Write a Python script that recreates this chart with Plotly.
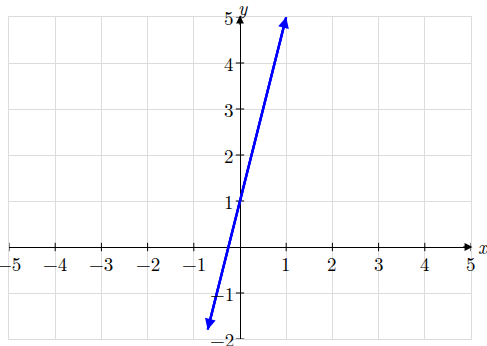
import plotly.graph_objects as go

# Data
line_x = [-0.7, 1.0]
line_y = [-1.8, 5.0]
x_ticks = [-5, -4, -3, -2, -1, 1, 2, 3, 4, 5]
y_ticks = [-2, -1, 1, 2, 3, 4, 5]
x_range = [-5, 5]
y_range = [-2, 5]

FONT = "'Latin Modern Roman', 'Liberation Serif', 'DejaVu Serif', serif"
FS = 19
fig = go.Figure()

# tick marks on the axes
fig.add_trace(go.Scatter(x=x_ticks, y=[0]*len(x_ticks), mode="markers",
                         marker=dict(symbol="line-ns", size=6, line=dict(width=1, color="black")),
                         cliponaxis=False, hoverinfo="skip", showlegend=False))
fig.add_trace(go.Scatter(x=[0]*len(y_ticks), y=y_ticks, mode="markers",
                         marker=dict(symbol="line-ew", size=6, line=dict(width=1, color="black")),
                         cliponaxis=False, hoverinfo="skip", showlegend=False))

# main line
fig.add_trace(go.Scatter(x=line_x, y=line_y, mode="lines",
                         line=dict(color="#0000ff", width=2.3),
                         cliponaxis=False, showlegend=False))

ann = []
# arrowheads on the line
for i, j in [(0, 1), (1, 0)]:
    ann.append(dict(x=line_x[i], y=line_y[i], ax=line_x[j], ay=line_y[j],
                    xref="x", yref="y", axref="x", ayref="y", text="",
                    showarrow=True, arrowhead=2, arrowsize=0.95, arrowwidth=2.3,
                    arrowcolor="#0000ff", standoff=0, startstandoff=0))
# axis arrows
ann.append(dict(x=x_range[1] + 0.03, y=0, ax=x_range[1] - 0.2, ay=0, xref="x", yref="y",
                axref="x", ayref="y", text="", showarrow=True, arrowhead=2,
                arrowsize=1.2, arrowwidth=1.3, arrowcolor="black", standoff=0))
ann.append(dict(x=0, y=y_range[1] + 0.03, ax=0, ay=y_range[1] - 0.2, xref="x", yref="y",
                axref="x", ayref="y", text="", showarrow=True, arrowhead=2,
                arrowsize=1.2, arrowwidth=1.3, arrowcolor="black", standoff=0))

def lab(v):
    return ("\u2212" + str(-v)) if v < 0 else str(v)

for v in x_ticks:
    ann.append(dict(x=v, y=0, xref="x", yref="y", text=lab(v), showarrow=False,
                    xanchor="center", yanchor="middle", yshift=-16,
                    font=dict(family=FONT, size=FS, color="black")))
for v in y_ticks:
    ann.append(dict(x=0, y=v, xref="x", yref="y", text=lab(v), showarrow=False,
                    xanchor="right", yanchor="middle", xshift=-4,
                    font=dict(family=FONT, size=FS, color="black")))
ann.append(dict(x=x_range[1], y=0, xref="x", yref="y", text="<i>x</i>", showarrow=False,
                xanchor="left", yanchor="middle", xshift=5, yshift=1,
                font=dict(family=FONT, size=FS, color="black")))
ann.append(dict(x=0, y=y_range[1], xref="x", yref="y", text="<i>y</i>", showarrow=False,
                xanchor="center", yanchor="middle", yshift=10, xshift=3,
                font=dict(family=FONT, size=FS, color="black")))

fig.update_layout(
    width=487, height=346,
    margin=dict(l=9, r=16, t=17, b=7),
    paper_bgcolor="white", plot_bgcolor="white",
    font=dict(family=FONT),
    annotations=ann,
    xaxis=dict(range=x_range, dtick=1, tick0=0, showgrid=True, gridcolor="#dcdcdc", gridwidth=1,
               zeroline=True, zerolinecolor="black", zerolinewidth=1.3,
               showticklabels=False, ticks="", showline=True, linecolor="#dcdcdc",
               linewidth=1, mirror=True, fixedrange=True),
    yaxis=dict(range=y_range, dtick=1, tick0=0, showgrid=True, gridcolor="#dcdcdc", gridwidth=1,
               zeroline=True, zerolinecolor="black", zerolinewidth=1.3,
               showticklabels=False, ticks="", showline=True, linecolor="#dcdcdc",
               linewidth=1, mirror=True, fixedrange=True),
)

fig.write_html("out.html")
